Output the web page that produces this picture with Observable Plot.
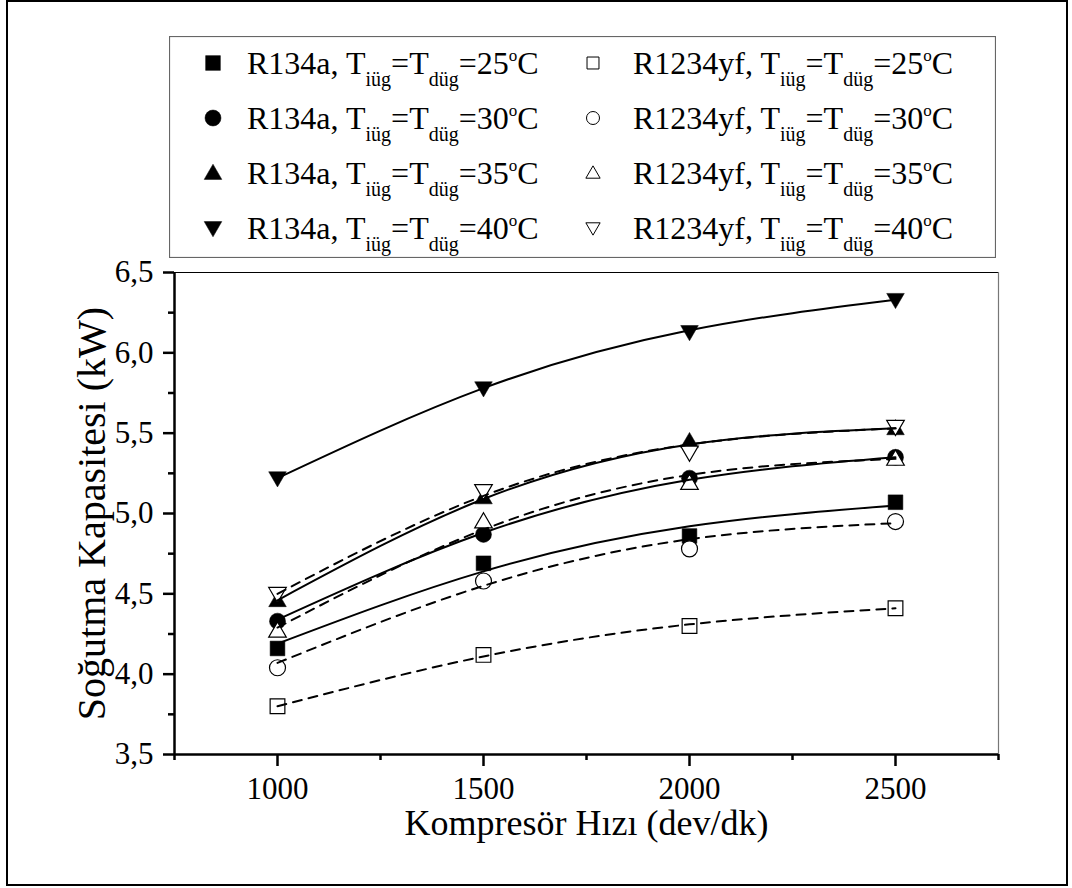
<!DOCTYPE html>
<html><head><meta charset="utf-8">
<script src="https://cdn.jsdelivr.net/npm/d3@7"></script>
<script src="https://cdn.jsdelivr.net/npm/@observablehq/plot@0.6"></script>
<style>
body{margin:0;background:#fff;}
#wrap{position:relative;width:1072px;height:888px;font-family:"Liberation Serif","Times New Roman",serif;overflow:hidden;}
#frame{position:absolute;left:6px;top:0px;width:1062px;height:886px;border:2px solid #000;box-sizing:border-box;pointer-events:none;}
#legend{position:absolute;left:169px;top:36px;}
#chart{position:absolute;left:0;top:0;}
</style></head>
<body>
<div id="wrap"><div id="chart"></div><svg id="legend" width="827" height="222"></svg><div id="frame"></div></div>
<script>
// ---- data ----
const speeds = [1000, 1500, 2000, 2500];
const r134a_25 = [4.16, 4.69, 4.86, 5.07];
const r134a_30 = [4.33, 4.87, 5.22, 5.35];
const r134a_35 = [4.46, 5.10, 5.45, 5.53];
const r134a_40 = [5.22, 5.78, 6.13, 6.33];
const r1234yf_25 = [3.80, 4.12, 4.30, 4.41];
const r1234yf_30 = [4.04, 4.58, 4.78, 4.95];
const r1234yf_35 = [4.27, 4.95, 5.19, 5.34];
const r1234yf_40 = [4.50, 5.14, 5.38, 5.54];
// fitted curves (at the same speeds)
const fit_r134a_25 = [4.19, 4.64, 4.92, 5.05];
const fit_r134a_30 = [4.34, 4.88, 5.21, 5.35];
const fit_r134a_35 = [4.46, 5.09, 5.43, 5.53];
const fit_r134a_40 = [5.22, 5.78, 6.14, 6.33];
const fit_r1234yf_25 = [3.80, 4.11, 4.31, 4.41];
const fit_r1234yf_30 = [4.07, 4.55, 4.84, 4.94];
const fit_r1234yf_35 = [4.29, 4.90, 5.24, 5.34];
const fit_r1234yf_40 = [4.50, 5.11, 5.43, 5.53];
const temps = ["25", "30", "35", "40"];
const refrigerants = ["R134a", "R1234yf"];
const xMajorTicks = [1000, 1500, 2000, 2500];
const xMinorTicks = [750, 1250, 1750, 2250, 2750];
const yMajorTicks = [3.5, 4.0, 4.5, 5.0, 5.5, 6.0, 6.5];
const yMinorTicks = [3.75, 4.25, 4.75, 5.25, 5.75, 6.25];
const xTitle = "Kompresör Hızı (dev/dk)";
const yTitle = "Soğutma Kapasitesi (kW)";

// ---- symbols ----
const mk = fn => ({draw(c, size){ const r = Math.sqrt(size / Math.PI); fn(c, r); }});
const symSquare = mk((c, r) => { const h = r * 0.92; c.moveTo(-h,-h); c.lineTo(h,-h); c.lineTo(h,h); c.lineTo(-h,h); c.closePath(); });
const symCircle = mk((c, r) => { c.moveTo(r, 0); c.arc(0, 0, r, 0, 2 * Math.PI); });
const symUp = mk((c, r) => { c.moveTo(0, -1.1*r); c.lineTo(1.1*r, 0.8*r); c.lineTo(-1.1*r, 0.8*r); c.closePath(); });
const symDown = mk((c, r) => { c.moveTo(0, 1.1*r); c.lineTo(1.1*r, -0.8*r); c.lineTo(-1.1*r, -0.8*r); c.closePath(); });
const symbols = [symSquare, symCircle, symUp, symDown];

const values = {R134a: [r134a_25, r134a_30, r134a_35, r134a_40], R1234yf: [r1234yf_25, r1234yf_30, r1234yf_35, r1234yf_40]};
const fits = {R134a: [fit_r134a_25, fit_r134a_30, fit_r134a_35, fit_r134a_40], R1234yf: [fit_r1234yf_25, fit_r1234yf_30, fit_r1234yf_35, fit_r1234yf_40]};

const marks = [];
// axes
marks.push(Plot.axisX({ticks: xMinorTicks, tickSize: 6, tickFormat: () => "", strokeWidth: 2.5, label: null}));
marks.push(Plot.axisX({ticks: xMajorTicks, tickSize: 12, tickPadding: 10, tickFormat: d => String(d), strokeWidth: 2.5, label: null, fontSize: 31}));
marks.push(Plot.axisY({ticks: yMinorTicks, tickSize: 6, tickFormat: () => "", strokeWidth: 2.5, label: null}));
marks.push(Plot.axisY({ticks: yMajorTicks, tickSize: 11, tickPadding: 10, tickFormat: d => d.toFixed(1).replace(".", ","), strokeWidth: 2.5, label: null, fontSize: 31}));
marks.push(Plot.ruleY([6.5], {stroke: "#000", strokeWidth: 1}));
marks.push(Plot.ruleX([2750], {stroke: "#777", strokeWidth: 1.2}));
marks.push(Plot.ruleX([750], {stroke: "#000", strokeWidth: 2.5}));
marks.push(Plot.ruleY([3.5], {stroke: "#000", strokeWidth: 2.5}));
// data
refrigerants.forEach((ref, ri) => {
  temps.forEach((t, ti) => {
    const pts = speeds.map((s, i) => ({x: s, y: values[ref][ti][i]}));
    marks.push(Plot.dot(pts, {x: "x", y: "y", r: 8, symbol: symbols[ti],
      fill: ri === 0 ? "#000" : "#fff", stroke: "#000", strokeWidth: ri === 0 ? 0.5 : 1.2}));
  });
});
refrigerants.forEach((ref, ri) => {
  temps.forEach((t, ti) => {
    const pts = speeds.map((s, i) => ({x: s, y: fits[ref][ti][i]}));
    marks.push(Plot.line(pts, {x: "x", y: "y", curve: "natural", stroke: "#000", strokeWidth: 2,
      strokeDasharray: ri === 0 ? null : "9,7"}));
  });
});
marks.push(Plot.text([xTitle], {frameAnchor: "bottom", dy: 80, fontSize: 36}));
marks.push(Plot.text([yTitle], {frameAnchor: "left", textAnchor: "middle", dx: -82, rotate: -90, fontSize: 40}));

const chart = Plot.plot({
  width: 1072, height: 888,
  marginLeft: 174, marginRight: 74, marginTop: 272, marginBottom: 134,
  style: {fontFamily: "'Liberation Serif','Times New Roman',serif", fontSize: "31px", color: "#000", background: "transparent", overflow: "visible"},
  x: {domain: [750, 2750]},
  y: {domain: [3.5, 6.5]},
  marks
});
document.getElementById("chart").appendChild(chart);

// ---- legend ----
const lg = d3.select("#legend");
lg.append("rect").attr("x", 0.5).attr("y", 0.5).attr("width", 826).attr("height", 221)
  .attr("fill", "#fff").attr("stroke", "#666").attr("stroke-width", 1.2);
const rowY = [27, 82, 137, 192];
const colMarkX = [44, 424];
const colTextX = [78, 464];
refrigerants.forEach((ref, ri) => {
  temps.forEach((t, ti) => {
    const y = rowY[ti];
    const sizeR = ri === 0 ? 8 : 6.5;
    lg.append("path").attr("transform", `translate(${colMarkX[ri]},${y})`)
      .attr("d", d3.symbol(symbols[ti], Math.PI * sizeR * sizeR)())
      .attr("fill", ri === 0 ? "#000" : "#fff").attr("stroke", "#000").attr("stroke-width", ri === 0 ? 0.5 : 1);
    const tx = lg.append("text").attr("x", colTextX[ri]).attr("y", y + 11)
      .attr("font-family", "'Liberation Serif','Times New Roman',serif").attr("font-size", 32).attr("fill", "#000");
    tx.append("tspan").text(ref + ", T");
    tx.append("tspan").attr("font-size", 20).attr("dy", 12).text("iüg");
    tx.append("tspan").attr("dy", -12).text("=T");
    tx.append("tspan").attr("font-size", 20).attr("dy", 12).text("düg");
    tx.append("tspan").attr("dy", -12).text("=" + t);
    tx.append("tspan").attr("font-size", 17).attr("dy", -13).text("o");
    tx.append("tspan").attr("dy", 13).text("C");
  });
});
</script>
</body></html>
